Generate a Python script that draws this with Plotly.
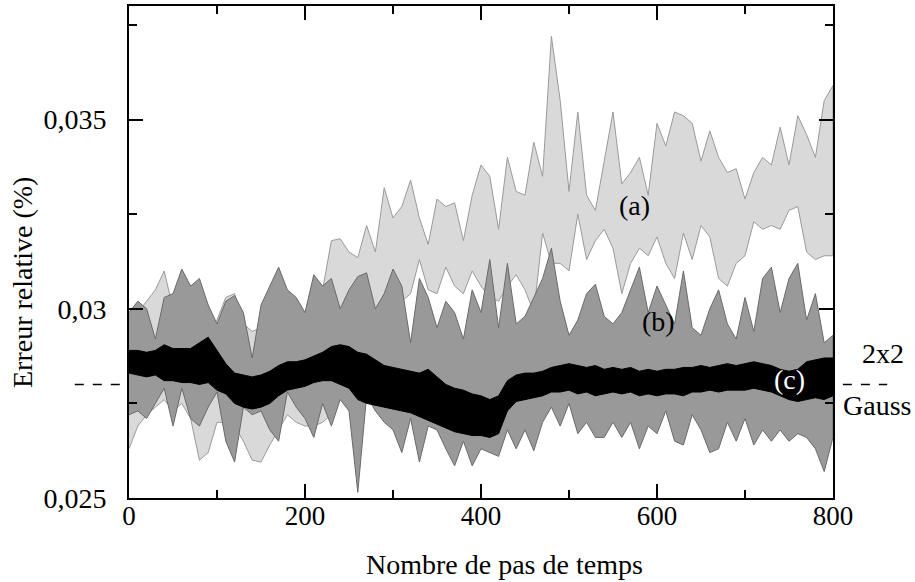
import plotly.graph_objects as go

# time steps (every 10 steps)
steps = list(range(0, 801, 10))

# relative error, in units of 1e-3 % (upper / lower envelope of each band)
# (a) light gray band
a_upper = [29.4, 29.9, 30.2, 30.5, 31.0, 30.0, 30.2, 29.8, 30.0, 29.5,
           29.7, 30.3, 30.4, 29.6, 29.4, 29.5, 29.8, 30.0, 30.0, 29.6,
           29.4, 30.0, 30.5, 31.8, 31.85, 31.5, 31.35, 32.2, 31.5, 33.2,
           32.4, 32.7, 33.4, 32.4, 31.7, 32.9, 32.7, 32.8, 31.8, 33.0,
           33.8, 33.5, 32.1, 34.0, 33.1, 33.0, 34.4, 33.5, 37.2, 35.5,
           33.1, 35.2, 33.0, 32.6, 33.9, 35.2, 33.3, 33.6, 34.0, 33.0,
           34.9, 34.3, 35.2, 35.1, 34.9, 33.9, 34.7, 34.0, 33.6, 33.7,
           32.9, 33.6, 34.0, 33.8, 34.8, 33.8, 35.1, 34.6, 34.0, 35.5,
           35.9]
a_lower = [26.3, 26.9, 27.2, 27.4, 27.6, 27.3, 27.5, 27.1, 26.0, 26.2,
           27.0, 27.0, 26.9, 26.5, 26.0, 25.95, 26.4, 26.8, 27.2, 27.0,
           26.9, 26.9, 27.0, 27.2, 27.8, 28.2, 29.0, 29.5, 29.6, 29.8,
           30.0, 30.2, 30.4, 31.3, 30.5, 30.4, 31.1, 30.6, 30.4, 31.0,
           30.6, 30.3, 30.2, 30.6, 30.9, 30.5, 29.9, 32.0, 31.2, 31.2,
           31.0, 32.5, 31.3, 31.8, 32.1, 31.6, 30.4, 31.2, 31.6, 31.4,
           31.9, 31.2, 30.8, 32.0, 31.3, 32.2, 31.9, 30.8, 30.6, 31.2,
           31.4, 32.3, 32.1, 32.2, 32.1, 32.6, 32.7, 31.5, 31.3, 31.4,
           31.4]

# (b) medium gray band
b_upper = [29.9, 30.2, 30.0, 29.2, 30.3, 30.4, 31.05, 30.6, 30.8, 30.1,
           29.6, 30.2, 30.35, 29.9, 28.7, 30.1, 30.6, 31.1, 30.5, 30.3,
           29.9, 30.9, 30.6, 30.8, 30.0, 30.5, 30.85, 30.95, 30.0, 30.4,
           31.05, 30.6, 29.1, 30.8, 30.3, 29.5, 30.2, 29.9, 29.2, 30.5,
           29.9, 31.3, 29.5, 31.2, 29.6, 29.8, 30.3, 30.8, 31.6, 30.2,
           29.3, 29.7, 30.4, 30.65, 29.8, 29.6, 29.9, 30.5, 31.1, 29.9,
           30.6, 30.1, 29.6, 31.0, 29.5, 29.3, 30.0, 30.5, 29.6, 29.2,
           30.3, 29.4, 30.8, 31.1, 29.9, 30.8, 31.2, 29.7, 30.4, 29.1,
           29.3]
b_lower = [27.2, 27.3, 27.1, 27.5, 27.9, 26.9, 27.9, 27.1, 26.9, 27.4,
           27.8, 26.5, 25.95, 27.4, 27.2, 27.3, 26.8, 26.5, 27.8, 27.4,
           27.1, 26.6, 27.5, 26.9, 27.6, 27.3, 25.15, 27.7, 27.3, 27.0,
           26.8, 26.2, 27.1, 25.95, 26.9, 26.8, 26.3, 25.85, 26.5, 25.85,
           26.3, 26.2, 26.1, 26.8, 26.3, 26.8, 26.25, 27.0, 27.4, 26.9,
           27.5, 26.7, 27.0, 26.6, 26.6, 27.0, 26.6, 27.0, 26.3, 26.9,
           26.7, 27.3, 26.5, 26.4, 27.2, 26.8, 26.2, 26.3, 27.0, 26.5,
           27.1, 26.4, 26.8, 26.5, 26.8, 26.5, 26.7, 26.6, 26.3, 25.7,
           26.6]

# (c) black band
c_upper = [28.9, 28.9, 28.85, 28.9, 29.05, 28.95, 28.95, 28.95, 29.1, 29.25,
           28.9, 28.55, 28.3, 28.25, 28.2, 28.25, 28.35, 28.5, 28.6, 28.6,
           28.65, 28.75, 28.85, 29.0, 29.05, 29.0, 28.85, 28.8, 28.65, 28.5,
           28.45, 28.4, 28.35, 28.3, 28.4, 28.2, 28.0, 27.9, 27.85, 27.75,
           27.7, 27.6, 27.7, 28.1, 28.25, 28.3, 28.3, 28.35, 28.45, 28.5,
           28.55, 28.5, 28.45, 28.5, 28.4, 28.45, 28.4, 28.45, 28.35, 28.4,
           28.35, 28.4, 28.4, 28.45, 28.45, 28.5, 28.45, 28.5, 28.55, 28.5,
           28.55, 28.6, 28.55, 28.5, 28.4, 28.35, 28.4, 28.6, 28.65, 28.7,
           28.7]
c_lower = [28.3, 28.25, 28.2, 28.25, 28.1, 28.1, 28.05, 28.05, 28.0, 28.05,
           27.85, 27.75, 27.5, 27.4, 27.35, 27.4, 27.5, 27.7, 27.85, 27.9,
           27.95, 28.05, 28.1, 28.1, 28.0, 27.9, 27.6, 27.5, 27.45, 27.4,
           27.35, 27.3, 27.25, 27.15, 27.05, 26.95, 26.85, 26.75, 26.7, 26.65,
           26.65, 26.6, 26.7, 27.3, 27.55, 27.6, 27.65, 27.7, 27.8, 27.8,
           27.85, 27.75, 27.8, 27.7, 27.75, 27.8, 27.75, 27.8, 27.7, 27.75,
           27.7, 27.75, 27.75, 27.7, 27.8, 27.8, 27.85, 27.8, 27.85, 27.85,
           27.85, 27.9, 27.85, 27.8, 27.7, 27.6, 27.55, 27.6, 27.65, 27.6,
           27.7]

ref_level = 0.028  # 2x2 Gauss reference

FONT = "Liberation Serif, Times New Roman, serif"


def band(upper, lower, fill, line):
    xs = steps + steps[::-1]
    ys = [v * 1e-3 for v in upper] + [v * 1e-3 for v in lower[::-1]]
    return go.Scatter(x=xs, y=ys, mode="lines", fill="toself", fillcolor=fill,
                      line=dict(color=line, width=1), hoverinfo="skip",
                      showlegend=False)


fig = go.Figure()
fig.add_trace(band(a_upper, a_lower, "#d9d9d9", "#9a9a9a"))
fig.add_trace(band(b_upper, b_lower, "#999999", "#6a6a6a"))
fig.add_trace(band(c_upper, c_lower, "#000000", "#000000"))

# dashed reference line, drawn outside the frame on both sides
for x0, x1 in [(-0.077, 0.0), (1.014, 1.077)]:
    fig.add_shape(type="line", xref="paper", yref="y", x0=x0, x1=x1,
                  y0=ref_level, y1=ref_level,
                  line=dict(color="black", width=1.5, dash="dash"))


def label(text, x, y, xref="x", yref="y", color="black", angle=0):
    fig.add_annotation(x=x, y=y, xref=xref, yref=yref, text=text, showarrow=False,
                       xanchor="center", yanchor="middle", textangle=angle,
                       font=dict(family=FONT, size=28, color=color))


label("(a)", 574, 0.03272)
label("(b)", 602, 0.02966)
label("(c)", 751, 0.02812, color="white")
label("2x2", 1.071, 0.02883, xref="paper")
label("Gauss", 1.0625, 0.02744, xref="paper")
# axis titles
label("Nombre de pas de temps", 0.534, -0.136, xref="paper", yref="paper")
label("Erreur relative (%)", -0.152, 0.439, xref="paper", yref="paper", angle=-90)

fig.update_xaxes(range=[0, 800], tickvals=[0, 200, 400, 600, 800],
                 ticks="inside", ticklen=14, tickwidth=1.5, tickcolor="black",
                 minor=dict(tickvals=[100, 300, 500, 700], ticks="inside",
                            ticklen=8, tickwidth=1.5, tickcolor="black"),
                 showline=True, linewidth=2, linecolor="black", mirror="ticks",
                 showgrid=False, zeroline=False, automargin=False,
                 ticklabelstandoff=-7,
                 tickfont=dict(family=FONT, size=27, color="black"))
fig.update_yaxes(range=[0.025, 0.038], tickvals=[0.025, 0.03, 0.035],
                 ticktext=["0,025", "0,03", "0,035"],
                 ticks="inside", ticklen=14, tickwidth=1.5, tickcolor="black",
                 minor=dict(tickvals=[0.0275, 0.0325, 0.0375], ticks="inside",
                            ticklen=8, tickwidth=1.5, tickcolor="black"),
                 showline=True, linewidth=2, linecolor="black", mirror="ticks",
                 showgrid=False, zeroline=False, automargin=False,
                 ticklabelstandoff=15,
                 tickfont=dict(family=FONT, size=28, color="black"))

fig.update_layout(template="none", width=915, height=582,
                  margin=dict(l=129, r=82, t=6, b=84, autoexpand=False),
                  plot_bgcolor="white", paper_bgcolor="white",
                  font=dict(family=FONT, color="black"))

# drop the page's default 8px body margin so the figure sits at the window corner
fig.write_html("out.html", config={"displayModeBar": False},
               post_script="document.body.style.margin = '0';")
